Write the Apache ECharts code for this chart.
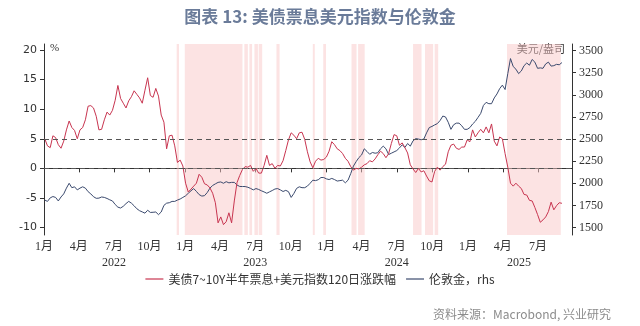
<!DOCTYPE html>
<html>
<head>
<meta charset="utf-8">
<script src="https://cdn.jsdelivr.net/npm/echarts@6/dist/echarts.min.js"></script>
<style>
  html, body { margin: 0; padding: 0; background: #fff; }
  #chart { width: 640px; height: 326px; }
</style>
</head>
<body>
<div id="chart"></div>
<script>
// Weekly observations starting Monday 2022-01-03
const firstWeek = [2022, 0, 3];

// 美债7~10Y半年票息+美元指数120日涨跌幅 (%), left axis
const couponPlusDxy = [
  5.0, 3.8, 3.5, 5.5, 5.2, 4.0, 3.4, 4.6, 6.5, 8.0,
  6.9, 6.4, 5.0, 6.5, 6.9, 8.2, 10.5, 10.6, 10.2, 8.8,
  6.5, 6.6, 8.2, 9.5, 9.0, 9.8, 11.5, 14.0, 11.8, 11.0,
  10.2, 11.4, 12.1, 13.1, 12.5, 11.9, 11.0, 13.2, 15.3, 12.3,
  12.0, 13.5, 12.2, 9.0, 7.8, 3.3, 5.5, 5.6, 3.8, 1.0,
  1.4, 0.4, -2.5, -4.0, -3.5, -3.0, -2.5, -1.0, -1.5, -2.6,
  -2.8, -3.3, -4.2, -5.8, -9.2, -8.2, -9.5, -9.0, -7.5, -9.2,
  -5.5, -2.4, -1.2, -0.2, 0.3, 0.2, 0.5, -0.5, 0.0, -0.8,
  -0.8, 0.5, 2.2, 0.5, 0.8, 0.0, 0.5, 0.4, 1.3, 3.0,
  4.8, 6.0, 5.6, 5.0, 6.0, 6.1, 4.9, 2.8, 1.1, 0.1,
  1.2, 1.7, 1.4, 1.5, 1.9, 2.9, 4.5, 4.0, 3.3, 3.0,
  2.5, 1.7, 1.2, 0.3, -0.3, 0.0, -0.1, 0.2, 0.6, 0.8,
  1.3, 1.1, 1.6, 2.3, 2.9, 2.5, 1.8, 2.5, 4.2, 5.7,
  5.5, 3.9, 4.3, 3.5, 2.6, 0.6, -0.1, -0.7, 0.0, -0.6,
  -0.4, -1.3, -2.1, -2.3, -0.5, 0.2, -0.3, 0.3, 0.7, 2.8,
  3.9, 4.1, 3.4, 3.2, 3.6, 3.6, 4.8, 4.5, 6.5, 5.3,
  6.0, 6.6, 6.0, 7.0, 6.0, 7.5, 4.6, 3.8, 5.3, 5.0,
  2.5, 0.2, -2.5, -3.0, -2.5, -3.0, -3.4, -4.4, -4.5, -5.4,
  -5.5, -6.6, -7.8, -9.1, -8.7, -8.2, -7.3, -5.7, -7.0, -6.3,
  -5.8, -5.9
];

// 伦敦金 (美元/盎司), right axis
const londonGold = [
  1810, 1795, 1835, 1850, 1840, 1800, 1845, 1880, 1945, 2000,
  1950, 1960, 1925, 1945, 1960, 1945, 1905, 1880, 1848, 1830,
  1832, 1845, 1840, 1828, 1813, 1800, 1760, 1730, 1720, 1740,
  1770, 1795, 1775, 1745, 1712, 1690, 1676, 1662, 1695, 1670,
  1672, 1675, 1645, 1675, 1750, 1775, 1780, 1795, 1795, 1810,
  1822, 1840, 1858, 1887, 1915, 1940, 1908, 1872, 1855, 1860,
  1895, 1945, 1975, 1993, 2010, 2015, 2000, 2018, 2005, 2010,
  2010, 1980, 1964, 1963, 1963, 1955, 1942, 1925, 1940, 1930,
  1915, 1902, 1887, 1903, 1918, 1935, 1940, 1925, 1907, 1920,
  1905, 1840, 1885, 1942, 1960, 1950, 1950, 1968, 2000, 2035,
  2030, 2040, 2065, 2065, 2050, 2042, 2055, 2042, 2025, 2030,
  2035, 2005, 2035, 2110, 2195, 2245, 2290, 2320, 2390, 2360,
  2328, 2348, 2340, 2345, 2390, 2420, 2390, 2325, 2340, 2355,
  2370, 2400, 2435, 2405, 2450, 2420, 2480, 2505, 2500, 2492,
  2500, 2570, 2630, 2643, 2660, 2675, 2710, 2760, 2750, 2690,
  2610, 2662, 2680, 2680, 2650, 2610, 2610, 2630, 2670, 2700,
  2745, 2790, 2880, 2915, 2900, 2900, 2965, 3010, 3070, 3110,
  3060, 3240, 3410, 3320, 3290, 3240, 3270, 3330, 3360, 3335,
  3400, 3370, 3300, 3305, 3300, 3350, 3370, 3325, 3330, 3345,
  3340, 3365
];

// Shaded periods
const shadedPeriods = [
  ['2022-12-10', '2022-12-16'],
  ['2022-12-31', '2023-05-29'],
  ['2023-06-03', '2023-06-12'],
  ['2023-06-16', '2023-06-23'],
  ['2023-06-29', '2023-07-08'],
  ['2023-07-10', '2023-07-19'],
  ['2023-08-25', '2023-09-02'],
  ['2023-11-27', '2023-12-02'],
  ['2023-12-24', '2023-12-31'],
  ['2024-03-06', '2024-03-19'],
  ['2024-03-23', '2024-04-09'],
  ['2024-08-12', '2024-09-03'],
  ['2024-09-12', '2024-10-03'],
  ['2024-10-07', '2024-10-16'],
  ['2025-04-12', '2025-08-29']
];

// Axis tick values
const leftTicks = [-10, -5, 0, 5, 10, 15, 20];
const rightTicks = [1500, 1750, 2000, 2250, 2500, 2750, 3000, 3250, 3500];
const refLines = [0, 5];
const quarterStarts = [
  '2022-01-01', '2022-04-01', '2022-07-01', '2022-10-01',
  '2023-01-01', '2023-04-01', '2023-07-01', '2023-10-01',
  '2024-01-01', '2024-04-01', '2024-07-01', '2024-10-01',
  '2025-01-01', '2025-04-01', '2025-07-01'
];
const yearLabels = [
  ['2022-07-01', '2022'],
  ['2023-07-01', '2023'],
  ['2024-07-01', '2024'],
  ['2025-05-13', '2025']
];

const seriesNames = ['美债7~10Y半年票息+美元指数120日涨跌幅', '伦敦金，rhs'];

function ts(s) {
  const p = s.split('-').map(Number);
  return new Date(p[0], p[1] - 1, p[2]).getTime();
}
function weekTime(i) {
  return new Date(firstWeek[0], firstWeek[1], firstWeek[2] + 7 * i).getTime();
}

const redData = couponPlusDxy.map((v, i) => [weekTime(i), v]);
const goldData = londonGold.map((v, i) => [weekTime(i), v]);
const quarterTs = quarterStarts.map(ts);
const yearTs = yearLabels.map(d => ts(d[0]));
const yearByTs = {};
yearLabels.forEach(d => { yearByTs[ts(d[0])] = d[1]; });

const axisMin = ts('2022-01-01');
const axisMax = ts('2025-09-27');

const serif = '"Liberation Serif", "Noto Sans CJK SC", serif';
const cjk = '"Noto Sans CJK SC", sans-serif';

const chart = echarts.init(document.getElementById('chart'), null, { renderer: 'canvas' });
chart.setOption({
  animation: false,
  backgroundColor: '#ffffff',
  title: [
    {
      text: '图表 13: 美债票息美元指数与伦敦金',
      left: 'center',
      top: 3,
      textStyle: { fontFamily: cjk, fontSize: 17, fontWeight: 'bold', color: '#6a7b99' }
    },
    {
      text: '资料来源：Macrobond, 兴业研究',
      right: 24,
      top: 303,
      textStyle: { fontFamily: cjk, fontSize: 12, fontWeight: 'normal', color: '#8c8c8c' }
    }
  ],
  legend: {
    top: 268,
    left: 'center',
    icon: 'rect',
    itemWidth: 18,
    itemHeight: 1.2,
    itemGap: 10,
    data: seriesNames,
    textStyle: { fontFamily: cjk, fontSize: 12, color: '#333' }
  },
  grid: { left: 44, right: 68, top: 44, height: 191 },
  xAxis: [
    {
      type: 'value',
      min: axisMin,
      max: axisMax,
      axisLine: { lineStyle: { color: '#333', width: 1 } },
      axisTick: { show: true, length: 4, customValues: quarterTs, lineStyle: { color: '#333' } },
      axisLabel: {
        customValues: quarterTs,
        margin: 6,
        fontFamily: serif,
        fontSize: 12,
        color: '#333',
        formatter: v => (new Date(v).getMonth() + 1) + '月'
      },
      splitLine: { show: false }
    },
    {
      type: 'value',
      min: axisMin,
      max: axisMax,
      position: 'bottom',
      offset: 16,
      axisLine: { show: false },
      axisTick: { show: false },
      axisLabel: {
        customValues: yearTs,
        margin: 6,
        fontFamily: serif,
        fontSize: 12,
        color: '#333',
        formatter: v => yearByTs[v] || ''
      },
      splitLine: { show: false }
    }
  ],
  yAxis: [
    {
      type: 'value',
      min: -11.25,
      max: 21,
      name: '%',
      nameLocation: 'end',
      nameGap: -4,
      nameTextStyle: { fontFamily: serif, fontSize: 11, color: '#333', align: 'left', verticalAlign: 'middle', padding: [0, 0, 0, 6] },
      axisLine: { show: true, lineStyle: { color: '#333', width: 1 } },
      axisTick: { show: true, length: 4, customValues: leftTicks, lineStyle: { color: '#333' } },
      axisLabel: { customValues: leftTicks, margin: 7, fontFamily: '"DejaVu Sans", sans-serif', fontSize: 11, color: '#333' },
      splitLine: { show: false }
    },
    {
      type: 'value',
      min: 1415,
      max: 3575,
      position: 'right',
      name: '美元/盎司',
      nameLocation: 'end',
      nameGap: -5,
      nameTextStyle: { fontFamily: cjk, fontSize: 11, color: '#333', align: 'right', verticalAlign: 'middle', padding: [0, 7, 0, 0] },
      axisLine: { show: true, lineStyle: { color: '#333', width: 1 } },
      axisTick: { show: true, length: 4, customValues: rightTicks, lineStyle: { color: '#333' } },
      axisLabel: { customValues: rightTicks, margin: 7, fontFamily: serif, fontSize: 12, color: '#333', formatter: v => String(v) },
      splitLine: { show: false }
    }
  ],
  series: [
    {
      name: seriesNames[0],
      type: 'line',
      xAxisIndex: 0,
      yAxisIndex: 0,
      data: redData,
      symbol: 'none',
      lineStyle: { color: '#c83550', width: 1 },
      itemStyle: { color: '#c83550' },
      z: 3,
      markArea: {
        silent: true,
        itemStyle: { color: 'rgba(250, 200, 200, 0.5)' },
        data: shadedPeriods.map(p => [{ xAxis: ts(p[0]) }, { xAxis: ts(p[1]) }])
      },
      markLine: {
        silent: true,
        symbol: 'none',
        label: { show: false },
        lineStyle: { color: '#555', type: [5, 4], width: 1 },
        data: refLines.map(v => ({ yAxis: v }))
      }
    },
    {
      name: seriesNames[1],
      type: 'line',
      xAxisIndex: 0,
      yAxisIndex: 1,
      data: goldData,
      symbol: 'none',
      lineStyle: { color: '#3b4a6e', width: 1 },
      itemStyle: { color: '#3b4a6e' },
      z: 2
    }
  ]
});
</script>
</body>
</html>
